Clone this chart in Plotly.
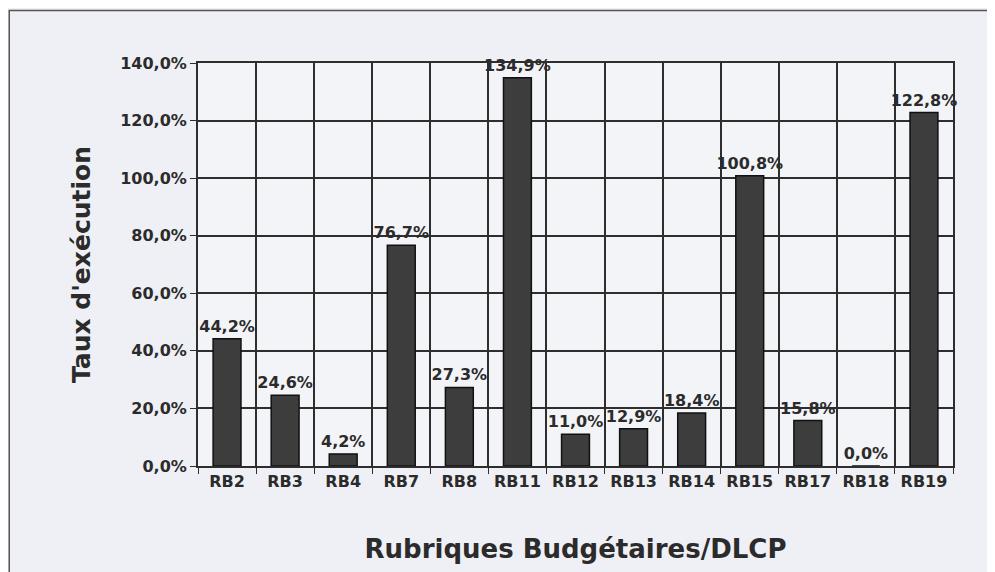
import plotly.graph_objects as go

categories = ["RB2", "RB3", "RB4", "RB7", "RB8", "RB11", "RB12", "RB13", "RB14", "RB15", "RB17", "RB18", "RB19"]
values = [44.2, 24.6, 4.2, 76.7, 27.3, 134.9, 11.0, 12.9, 18.4, 100.8, 15.8, 0.0, 122.8]
y_ticks = [0, 20, 40, 60, 80, 100, 120, 140]
y_tick_labels = [f"{v:.1f}%".replace(".", ",") for v in y_ticks]

FONT = "DejaVu Sans"
DARK = "#2b2b2b"

fig = go.Figure()
fig.add_trace(go.Bar(
    x=categories,
    y=values,
    width=0.48,
    marker=dict(color="#3d3d3d", line=dict(color="#111111", width=1.5)),
    texttemplate="%{y:.1f}%",
    textposition="outside",
    constraintext="none",
    cliponaxis=False,
    textfont=dict(family=FONT, size=16, color=DARK, weight="bold"),
))

fig.update_layout(
    width=995, height=572,
    margin=dict(l=190, r=50, t=55, b=114),
    paper_bgcolor="#eff0f5",
    plot_bgcolor="#f3f4f8",
    separators=", ",
    showlegend=False,
    font=dict(family=FONT, color=DARK),
    xaxis=dict(
        type="category",
        tickson="boundaries",
        showgrid=True, gridcolor="#2e2e2e", gridwidth=1.5,
        showline=True, linecolor="#2e2e2e", linewidth=2,
        ticks="outside", ticklen=6, tickcolor="#2e2e2e",
        tickfont=dict(family=FONT, size=16, color=DARK, weight="bold"),
        title=dict(text="Rubriques Budgétaires/DLCP", standoff=50,
                   font=dict(family=FONT, size=26, color=DARK, weight="bold")),
        mirror=True,
    ),
    yaxis=dict(
        range=[0, 140],
        tickvals=y_ticks,
        ticktext=y_tick_labels,
        showgrid=True, gridcolor="#2e2e2e", gridwidth=1.5,
        showline=True, linecolor="#2e2e2e", linewidth=2,
        ticks="outside", ticklen=6, tickcolor="#2e2e2e",
        tickfont=dict(family=FONT, size=16, color=DARK, weight="bold"),
        title=dict(text="Taux d'exécution", standoff=22,
                   font=dict(family=FONT, size=25, color=DARK, weight="bold")),
        zeroline=False,
        mirror=True,
    ),
    shapes=[dict(type="rect", xref="paper", yref="paper",
                 x0=-0.25, x1=1.3, y0=-0.5, y1=1.13,
                 line=dict(color="#555555", width=1.5), layer="below")],
)

fig.write_html("out.html")
